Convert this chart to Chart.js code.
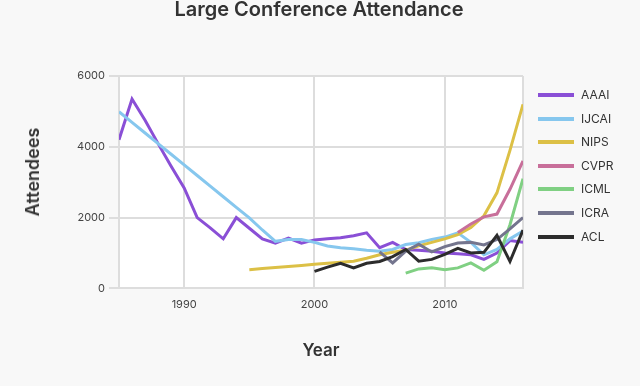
<!DOCTYPE html>
<html>
<head>
<meta charset="utf-8">
<script src="https://cdn.jsdelivr.net/npm/chart.js@4.4.1/dist/chart.umd.min.js"></script>
<style>
  body { margin: 0; background: #f8f8f8; }
  #wrap { position: relative; width: 640px; height: 386px; }
  #title { position: absolute; left: 119px; width: 400px; top: -2px; text-align: center;
           font: 600 20px Inter, sans-serif; line-height: 22px; color: #333; white-space: nowrap; }
  #ytitle { position: absolute; left: 33px; top: 172px; transform: translate(-50%, -50%) rotate(-90deg);
            font: 600 18px Inter, sans-serif; line-height: 20px; color: #333; white-space: nowrap; }
  .key { position: absolute; left: 538px; height: 14px; font: 12px Inter, sans-serif; color: #333; }
  .key span.line { position: absolute; left: 0; top: 5px; width: 36px; height: 4px; }
  .key span.txt { position: absolute; left: 43px; top: 0; line-height: 14px; white-space: nowrap; }
</style>
</head>
<body>
<div id="wrap">
  <canvas id="myChart" width="640" height="386"></canvas>
  <div id="title">Large Conference Attendance</div>
  <div id="ytitle">Attendees</div>
</div>
<script>
var years = [1985, 1986, 1987, 1988, 1989, 1990, 1991, 1992, 1993, 1994, 1995, 1996, 1997, 1998, 1999, 2000,
             2001, 2002, 2003, 2004, 2005, 2006, 2007, 2008, 2009, 2010, 2011, 2012, 2013, 2014, 2015, 2016];

var aaai  = [4200, 5350, 4750, 4090, 3450, 2840, 2000, 1710, 1400, 2000, 1700, 1400, 1280, 1420, 1280, 1370,
             1400, 1430, 1490, 1570, 1150, 1300, 1100, 1080, 1050, 1000, 980, 950, 820, 1000, 1350, 1300];
var ijcai = [4990, 4690, 4390, 4090, 3790, 3490, 3190, 2890, 2590, 2290, 1990, 1650, 1330, 1380, 1380, 1300,
             1200, 1150, 1120, 1080, 1050, 1100, 1240, 1290, 1380, 1450, 1570, 1300, 950, 1100, 1400, 1620];
var nips  = [null, null, null, null, null, null, null, null, null, null, 530, 560, 590, 620, 650, 680,
             710, 740, 770, 850, 950, 1020, 1080, 1200, 1300, 1400, 1520, 1720, 2050, 2700, 3900, 5200];
var cvpr  = [null, null, null, null, null, null, null, null, null, null, null, null, null, null, null, null,
             null, null, null, null, null, null, null, null, null, null, 1580, 1820, 2020, 2100, 2800, 3600];
var icml  = [null, null, null, null, null, null, null, null, null, null, null, null, null, null, null, null,
             null, null, null, null, null, null, 430, 550, 580, 530, 580, 720, 510, 750, 1800, 3100];
var icra  = [null, null, null, null, null, null, null, null, null, null, null, null, null, null, null, null,
             null, null, null, null, 1030, 720, 1050, 1250, 1030, 1180, 1280, 1300, 1230, 1380, 1680, 2000];
var acl   = [null, null, null, null, null, null, null, null, null, null, null, null, null, null, null, 480,
             600, 710, 580, 710, 760, 900, 1100, 770, 820, 960, 1130, 1000, 1020, 1500, 760, 1650];

var names  = ["AAAI", "IJCAI", "NIPS", "CVPR", "ICML", "ICRA", "ACL"];
var series = [aaai, ijcai, nips, cvpr, icml, icra, acl];
var colors = ["#8a4fd6", "#86c7ee", "#dcc046", "#c86f9a", "#80d083", "#74758e", "#2c2c2c"];

var yTicks = [0, 2000, 4000, 6000];
var xTicks = [1990, 2000, 2010];

function toPoints(values) {
    var pts = [];
    for (var i = 0; i < years.length; i++) {
        if (values[i] !== null) pts.push({ x: years[i], y: values[i] });
    }
    return pts;
}

var datasets = series.map(function (values, i) {
    return {
        label: names[i],
        data: toPoints(values),
        borderColor: colors[i],
        backgroundColor: colors[i],
        borderWidth: 3,
        pointRadius: 0,
        tension: 0,
        fill: false,
        order: series.length - 1 - i
    };
});

// white plot area
var plotBg = {
    id: "plotBg",
    beforeDraw: function (chart) {
        var a = chart.chartArea;
        var ctx = chart.ctx;
        ctx.save();
        ctx.fillStyle = "#ffffff";
        ctx.fillRect(a.left, a.top, a.right - a.left, a.bottom - a.top);
        ctx.restore();
    }
};

var ctx = document.getElementById("myChart").getContext("2d");
var chart = new Chart(ctx, {
    type: "line",
    data: { datasets: datasets },
    plugins: [plotBg],
    options: {
        responsive: false,
        animation: false,
        layout: { padding: { left: 0, right: 117, top: 76, bottom: 25 } },
        plugins: {
            legend: { display: false },
            tooltip: { enabled: false }
        },
        scales: {
            x: {
                type: "linear",
                min: years[0],
                max: years[years.length - 1],
                afterBuildTicks: function (scale) {
                    scale.ticks = [{ value: years[0] }].concat(xTicks.map(function (v) { return { value: v }; }), [{ value: years[years.length - 1] }]);
                },
                ticks: {
                    padding: 10,
                    color: "#444",
                    font: { family: "Inter", size: 11 },
                    maxRotation: 0,
                    callback: function (v) { return xTicks.indexOf(v) >= 0 ? String(v) : ""; }
                },
                grid: { color: "#dddddd", lineWidth: 2, drawTicks: false },
                border: { color: "#dddddd", width: 2 },
                title: {
                    display: true,
                    text: "Year",
                    color: "#333",
                    font: { family: "Inter", size: 17, weight: "600" },
                    padding: { top: 19, bottom: 0 }
                }
            },
            y: {
                min: 0,
                max: 6000,
                afterBuildTicks: function (scale) {
                    scale.ticks = yTicks.map(function (v) { return { value: v }; });
                },
                afterFit: function (scale) { scale.width = 119; },
                ticks: {
                    padding: 4,
                    color: "#444",
                    font: { family: "Inter", size: 11 },
                    callback: function (v) { return String(v); }
                },
                grid: { color: "#dddddd", lineWidth: 2, tickLength: 10 },
                border: { color: "#dddddd", width: 2 }
            }
        }
    }
});

// legend on the right
var wrap = document.getElementById("wrap");
names.forEach(function (name, i) {
    var item = document.createElement("div");
    item.className = "key";
    item.style.top = (95 + i * 23.6 - 7) + "px";
    var line = document.createElement("span");
    line.className = "line";
    line.style.background = colors[i];
    var txt = document.createElement("span");
    txt.className = "txt";
    txt.innerText = name;
    item.appendChild(line);
    item.appendChild(txt);
    wrap.appendChild(item);
});
</script>
</body>
</html>
